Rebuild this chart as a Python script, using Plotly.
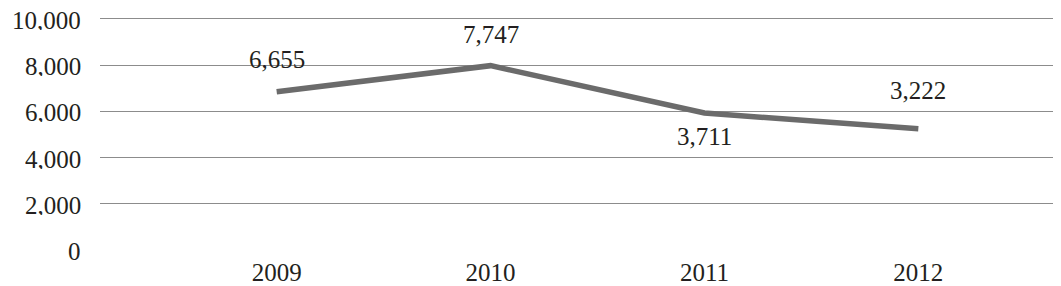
import plotly.graph_objects as go

years = [2009, 2010, 2011, 2012]
values = [6850, 7980, 5930, 5250]
labels = ["6,655", "7,747", "3,711", "3,222"]
label_shift = [32, 31, -23, 38]
y_ticks = [0, 2000, 4000, 6000, 8000, 10000]

font_family = "Liberation Serif"
text_color = "#231f20"
font_size = 25

fig = go.Figure()
fig.add_trace(go.Scatter(
    x=years, y=values, mode="lines",
    line=dict(color="#6b6b6b", width=5.5),
    hoverinfo="skip", showlegend=False,
))

for x, y, t, s in zip(years, values, labels, label_shift):
    fig.add_annotation(x=x, y=y, text=t, showarrow=False, yshift=s,
                       font=dict(family=font_family, size=font_size, color=text_color))

# y-axis tick labels drawn as annotations so the top one is not dropped
for v in y_ticks:
    fig.add_annotation(x=0, xref="paper", y=v, yref="y", text=f"{v:,}",
                       showarrow=False, xanchor="right", xshift=-18, yshift=-1,
                       height=20, borderpad=0,
                       font=dict(family=font_family, size=font_size, color=text_color))

# page body has an 8px margin, so the figure is sized/offset to compensate
fig.update_layout(
    width=1053, height=278,
    margin=dict(l=92, r=0, t=6, b=36),
    paper_bgcolor="white", plot_bgcolor="white",
    font=dict(family=font_family, size=font_size, color=text_color),
    xaxis=dict(range=[2008.174, 2012.667], tickvals=years, ticktext=[str(y) for y in years],
               showgrid=False, zeroline=False, showline=False, ticks="",
               ticklabelstandoff=5),
    yaxis=dict(range=[0, 10216], tickvals=y_ticks, showticklabels=False,
               showgrid=True, gridcolor="#8c8c8c", gridwidth=1,
               zeroline=False, showline=False, ticks=""),
)

fig.write_html("out.html")
